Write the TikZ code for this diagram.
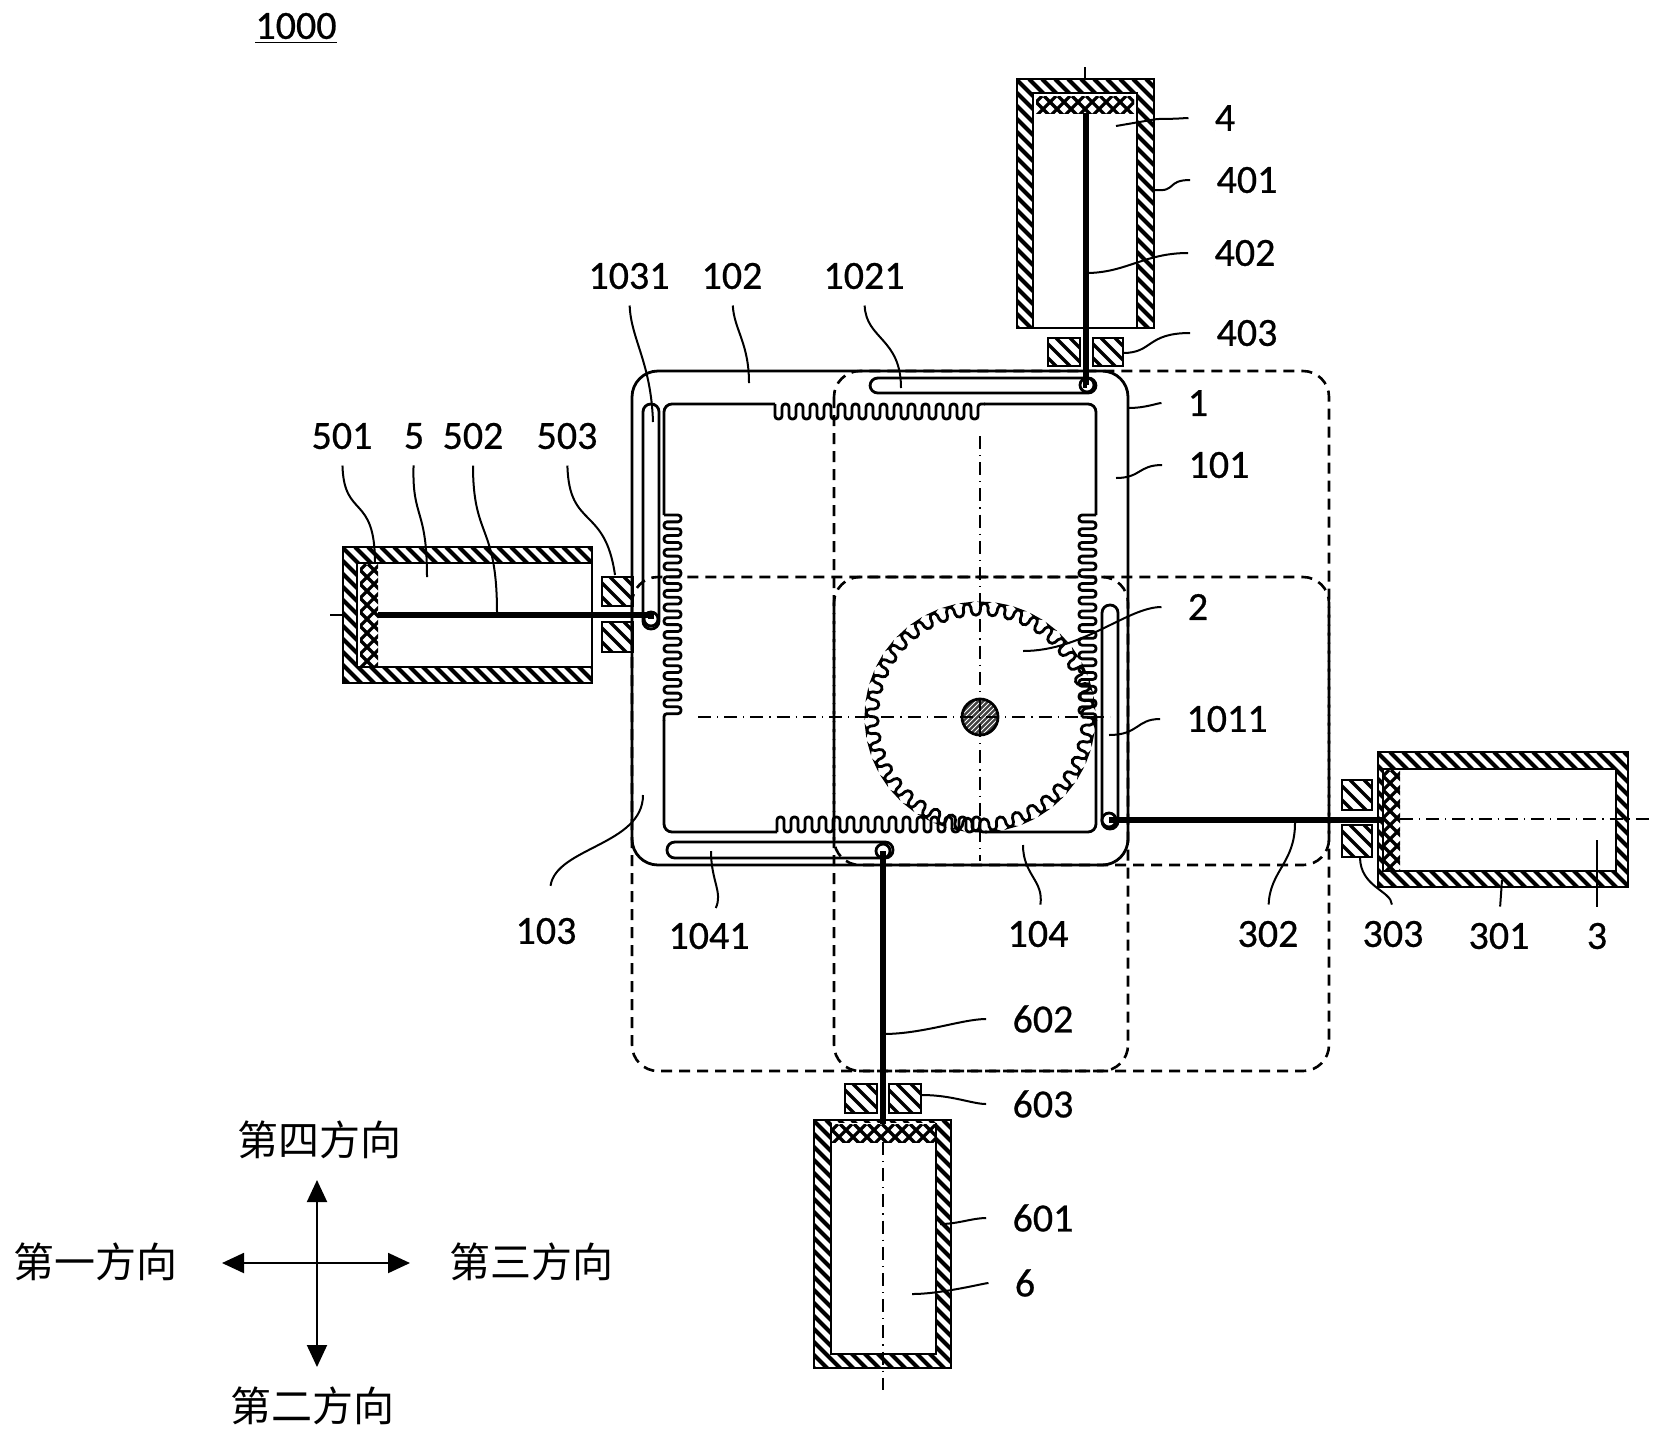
\documentclass[tikz,border=0pt]{standalone}
\usepackage{fontspec}
\setmainfont{Carlito}[FakeBold=0.6]
\newfontfamily\cjk{Noto Sans CJK SC}
\usetikzlibrary{arrows.meta}

\tikzset{
    numlab/.style={font=\fontsize{20}{24}\selectfont, inner sep=0pt},
    dirlab/.style={font=\cjk\fontsize{20.5}{24}\selectfont, inner sep=0pt},
    leader/.style={line width=1pt},
    sideleader/.style={leader, shorten <=13pt},
    endleader/.style={leader, shorten <=8pt},
    bodyline/.style={line width=1.4pt},
    rodline/.style={line width=2.8pt},
    movedbody/.style={line width=1.3pt, dash pattern=on 5.5pt off 3.5pt, rounded corners=13pt},
    centreline/.style={line width=1.2pt, dash pattern=on 6.5pt off 3pt on 0.6pt off 3pt},
    pin/.style={circle, draw, fill=white, line width=1.4pt, inner sep=0pt, minimum size=7pt},
    dirarrow/.style={line width=1pt, {Triangle[length=11pt,width=10pt]}-{Triangle[length=11pt,width=10pt]}}
}

%% hatched block: [width]{x1}{y1}{x2}{y2}{step}
\newcommand{\hatchbox}[6][2.1pt]{
    \begin{scope}
        \clip (#2,#3) rectangle (#4,#5);
        \foreach \n in {0,...,60}
            \draw [line width=#1] ({#2-300+\n*#6},#3) -- ++(300,300);
    \end{scope}
    \draw [line width=1.2pt] (#2,#3) rectangle (#4,#5);
}
%% magnet band
\newcommand{\crossbox}[4]{
    \begin{scope}
        \clip (#1,#2) rectangle (#3,#4);
        \foreach \n in {0,...,50} {
            \draw [line width=1.6pt] ({#1-300+\n*14},#2) -- ++(300,300);
            \draw [line width=1.6pt] ({#1+300-\n*14},#2) -- ++(-300,300);
        }
    \end{scope}
}

\begin{document}
\begin{tikzpicture}[x=0.5pt,y=-0.5pt]
        \useasboundingbox (0,0) rectangle (1663,1441);
        
        %% Moved positions of the frame
        \draw [movedbody] (834,371) rectangle (1329,865);
        \draw [movedbody] (834,577) rectangle (1329,1071);
        \draw [movedbody] (632,577) rectangle (1128,1071);
        
        %% Frame
        \draw [bodyline, rounded corners=13pt] (632,371) rectangle (1128,865);
        \draw [bodyline, rounded corners=4pt] (664,515) -- (664,404) -- (775,404);
        \draw [bodyline, rounded corners=4pt] (984,404) -- (1096,404) -- (1096,515);
        \draw [bodyline, rounded corners=4pt] (664,720) -- (664,832) -- (777,832);
        \draw [bodyline, rounded corners=4pt] (985,832) -- (1096,832) -- (1096,720);
        
        %% Racks
        \draw [bodyline, rounded corners=1.5pt] (775,404)
            \foreach \i in {1,...,15} { -- ++(0,15) -- ++(7,0) -- ++(0,-15) -- ++(7,0) };
        \draw [bodyline, rounded corners=1.5pt] (777,832)
            \foreach \i in {1,...,15} { -- ++(0,-15) -- ++(7,0) -- ++(0,15) -- ++(7,0) };
        \draw [bodyline, rounded corners=1.5pt] (664,515)
            \foreach \i in {1,...,15} { -- ++(17,0) -- ++(0,6.85) -- ++(-17,0) -- ++(0,6.85) };
        \draw [bodyline, rounded corners=1.5pt] (1096,515)
            \foreach \i in {1,...,15} { -- ++(-17,0) -- ++(0,6.85) -- ++(17,0) -- ++(0,6.85) };
        
        %% Slots
        \draw [bodyline, rounded corners=3.9pt] (870,378) rectangle (1096,393);
        \draw [bodyline, rounded corners=3.9pt] (643,404) rectangle (659,629);
        \draw [bodyline, rounded corners=3.9pt] (1102,605) rectangle (1118,829);
        \draw [bodyline, rounded corners=3.9pt] (667,842) rectangle (893,858);
        
        %% Gear
        \begin{scope}[shift={(980,717)}]
            \draw [bodyline, rounded corners=2pt] (0:102)
                \foreach \i in {0,...,39} { -- ({\i*9+0.4}:114) -- ({\i*9+4.1}:114) -- ({\i*9+4.5}:102) -- ({\i*9+9}:102) };
            \begin{scope}
                \clip (0,0) circle (18);
                \fill [black!75] (0,0) circle (18);
                \foreach \n in {-6,...,6}
                    \draw [white, line width=0.4pt] ({\n*5-30},30) -- ++(60,-60);
            \end{scope}
            \draw [bodyline] (0,0) circle (18);
        \end{scope}
        \draw [centreline] (980,436) -- (980,861);
        \draw [centreline] (698,717) -- (1110,717);
        
        %% Cylinder 4
        \hatchbox{1017}{79}{1154}{328}{13}
        \fill [white] (1033,93) rectangle (1137,328);
        \draw [bodyline] (1033,328) -- (1033,93) -- (1137,93) -- (1137,328);
        \draw [bodyline] (1017,79) rectangle (1154,328);
        \crossbox{1036}{96}{1134}{113}
        \hatchbox[1.7pt]{1048}{338}{1080}{366}{14}
        \hatchbox[1.7pt]{1093}{338}{1123}{366}{14}
        
        %% Cylinder 5
        \hatchbox{343}{547}{592}{683}{13}
        \fill [white] (357,563) rectangle (592,667);
        \draw [bodyline] (592,563) -- (357,563) -- (357,667) -- (592,667);
        \draw [bodyline] (343,547) rectangle (592,683);
        \crossbox{360}{564}{378}{666}
        \hatchbox[1.7pt]{602}{577}{633}{606}{14}
        \hatchbox[1.7pt]{602}{622}{633}{652}{14}
        
        %% Cylinder 3
        \hatchbox{1378}{752}{1628}{887}{13}
        \fill [white] (1383,769) rectangle (1616,871);
        \draw [bodyline] (1383,769) rectangle (1616,871);
        \draw [bodyline] (1378,752) rectangle (1628,887);
        \crossbox{1383}{770}{1400}{870}
        \hatchbox[1.7pt]{1342}{780}{1372}{810}{14}
        \hatchbox[1.7pt]{1342}{825}{1372}{857}{14}
        \draw [centreline] (1400,819) -- (1650,819);
        
        %% Cylinder 6
        \hatchbox{814}{1120}{951}{1368}{13}
        \fill [white] (831,1123) rectangle (936,1354);
        \draw [bodyline] (831,1123) -- (831,1354) -- (936,1354) -- (936,1123);
        \draw [bodyline] (814,1120) rectangle (951,1368);
        \crossbox{832}{1124}{935}{1142}
        \hatchbox[1.7pt]{845}{1084}{877}{1113}{14}
        \hatchbox[1.7pt]{889}{1084}{921}{1113}{14}
        \draw [centreline] (883,1142) -- (883,1390);
        
        %% Pins and rods
        \node [pin] (pin-top) at (1087,385) {};
        \node [pin] (pin-left) at (651,619) {};
        \node [pin] (pin-right) at (1109,820) {};
        \node [pin] (pin-bottom) at (883,851) {};
        \coordinate (rod-top) at (1086,113);
        \coordinate (rod-left) at (378,615);
        \coordinate (rod-right) at (1383,820);
        \coordinate (rod-bottom) at (883,1124);
        \draw [rodline] (rod-top) -- (1086,385) -- (pin-top.center);
        \draw [rodline] (rod-left) -- (651,615) -- (pin-left.center);
        \draw [rodline] (rod-right) -- (pin-right.center);
        \draw [rodline] (rod-bottom) -- (pin-bottom.center);
        \draw [leader] (1085,67) -- (1085,79);
        \draw [leader] (330,615) -- (343,615);
        
        %% Labels
        \node [numlab] (l1000) at (296,28) {\underline{1000}};
        \node [numlab] (l4) at (1225,118) {4};
        \node [numlab] (l401) at (1247,180) {401};
        \node [numlab] (l402) at (1245,253) {402};
        \node [numlab] (l403) at (1247,333) {403};
        \node [numlab] (l1) at (1198,403) {1};
        \node [numlab] (l101) at (1219,465) {101};
        \node [numlab] (l2) at (1198,607) {2};
        \node [numlab] (l1011) at (1227,719) {1011};
        \node [numlab] (l1031) at (629,276) {1031};
        \node [numlab] (l102) at (732,276) {102};
        \node [numlab] (l1021) at (864,276) {1021};
        \node [numlab] (l501) at (342,436) {501};
        \node [numlab] (l5) at (414,436) {5};
        \node [numlab] (l502) at (473,436) {502};
        \node [numlab] (l503) at (567,436) {503};
        \node [numlab] (l103) at (546,931) {103};
        \node [numlab] (l1041) at (709,936) {1041};
        \node [numlab] (l104) at (1038,934) {104};
        \node [numlab] (l302) at (1268,934) {302};
        \node [numlab] (l303) at (1393,934) {303};
        \node [numlab] (l301) at (1499,936) {301};
        \node [numlab] (l3) at (1597,936) {3};
        \node [numlab] (l602) at (1043,1019) {602};
        \node [numlab] (l603) at (1043,1104) {603};
        \node [numlab] (l601) at (1043,1218) {601};
        \node [numlab] (l6) at (1025,1283) {6};
        
        %% Leader ends
        \coordinate (p4) at (1116,126);
        \coordinate (p401) at (1155,190);
        \coordinate (p402) at (1086,273);
        \coordinate (p403) at (1123,353);
        \coordinate (p1) at (1128,408);
        \coordinate (p101) at (1116,478);
        \coordinate (p2) at (1023,651);
        \coordinate (p1011) at (1109,735);
        \coordinate (p1031) at (653,422);
        \coordinate (p102) at (749,383);
        \coordinate (p1021) at (901,388);
        \coordinate (p501) at (375,563);
        \coordinate (p5) at (427,577);
        \coordinate (p502) at (497,613);
        \coordinate (p503) at (615,575);
        \coordinate (p103) at (643,795);
        \coordinate (p1041) at (711,851);
        \coordinate (p104) at (1023,845);
        \coordinate (p302) at (1295,823);
        \coordinate (p303) at (1360,857);
        \coordinate (p301) at (1502,880);
        \coordinate (p3) at (1597,840);
        \coordinate (p602) at (883,1034);
        \coordinate (p603) at (922,1095);
        \coordinate (p601) at (940,1224);
        \coordinate (p6) at (912,1294);
        
        %% Leaders, right side
        \draw [sideleader] (l4.west) .. controls +(-30,0) and +(20,0) .. (1157,119) -- (p4);
        \draw [sideleader] (l401.west) .. controls +(-50,0) and +(22,2) .. (p401);
        \draw [sideleader] (l402.west) .. controls +(-70,0) and +(40,0) .. (p402);
        \draw [sideleader] (l403.west) .. controls +(-70,0) and +(30,0) .. (p403);
        \draw [sideleader] (l1.west) .. controls +(-30,0) and +(18,0) .. (p1);
        \draw [sideleader] (l101.west) .. controls +(-50,0) and +(25,0) .. (p101);
        \draw [sideleader] (l2.west) .. controls +(-60,0) and +(60,0) .. (p2);
        \draw [sideleader] (l1011.west) .. controls +(-50,0) and +(30,0) .. (p1011);
        \draw [sideleader] (l602.west) .. controls +(-50,0) and +(40,0) .. (p602);
        \draw [sideleader] (l603.west) .. controls +(-40,0) and +(30,0) .. (p603);
        \draw [sideleader] (l601.west) .. controls +(-40,0) and +(18,0) .. (p601);
        \draw [sideleader] (l6.west) .. controls +(-30,0) and +(30,0) .. (p6);
        
        %% Leaders, top
        \draw [endleader] (l1031.south) .. controls +(2,50) and +(-2,-60) .. (p1031);
        \draw [endleader] (l102.south) .. controls +(2,40) and +(0,-40) .. (p102);
        \draw [endleader] (l1021.south) .. controls +(2,50) and +(0,-50) .. (p1021);
        \draw [endleader] (l501.south) .. controls +(2,70) and +(0,-70) .. (p501);
        \draw [endleader] (l5.south) .. controls +(-2,70) and +(0,-70) .. (p5);
        \draw [endleader] (l502.south) .. controls +(0,90) and +(0,-90) .. (p502);
        \draw [endleader] (l503.south) .. controls +(2,80) and +(-10,-70) .. (p503);
        
        %% Leaders, bottom
        \draw [endleader, shorten <=16pt] (l103.north) .. controls +(10,-70) and +(0,50) .. (p103);
        \draw [endleader] (l1041.north) .. controls +(14,-30) and +(0,30) .. (p1041);
        \draw [endleader] (l104.north) .. controls +(6,-40) and +(0,30) .. (p104);
        \draw [endleader] (l302.north) .. controls +(2,-50) and +(0,40) .. (p302);
        \draw [endleader] (l303.north) .. controls +(-2,-30) and +(0,30) .. (p303);
        \draw [endleader] (l301.north) -- (p301);
        \draw [endleader] (l3.north) -- (p3);
        
        %% Directions
        \coordinate (dir-west) at (222,1263);
        \coordinate (dir-east) at (410,1263);
        \coordinate (dir-north) at (317,1180);
        \coordinate (dir-south) at (317,1367);
        \draw [dirarrow] (dir-west) -- (dir-east);
        \draw [dirarrow] (dir-north) -- (dir-south);
        \node [dirlab] (dir4) at (319,1140) {第四方向};
        \node [dirlab] (dir2) at (312,1406) {第二方向};
        \node [dirlab] (dir1) at (95,1262) {第一方向};
        \node [dirlab] (dir3) at (531,1262) {第三方向};
    \end{tikzpicture}
\end{document}
